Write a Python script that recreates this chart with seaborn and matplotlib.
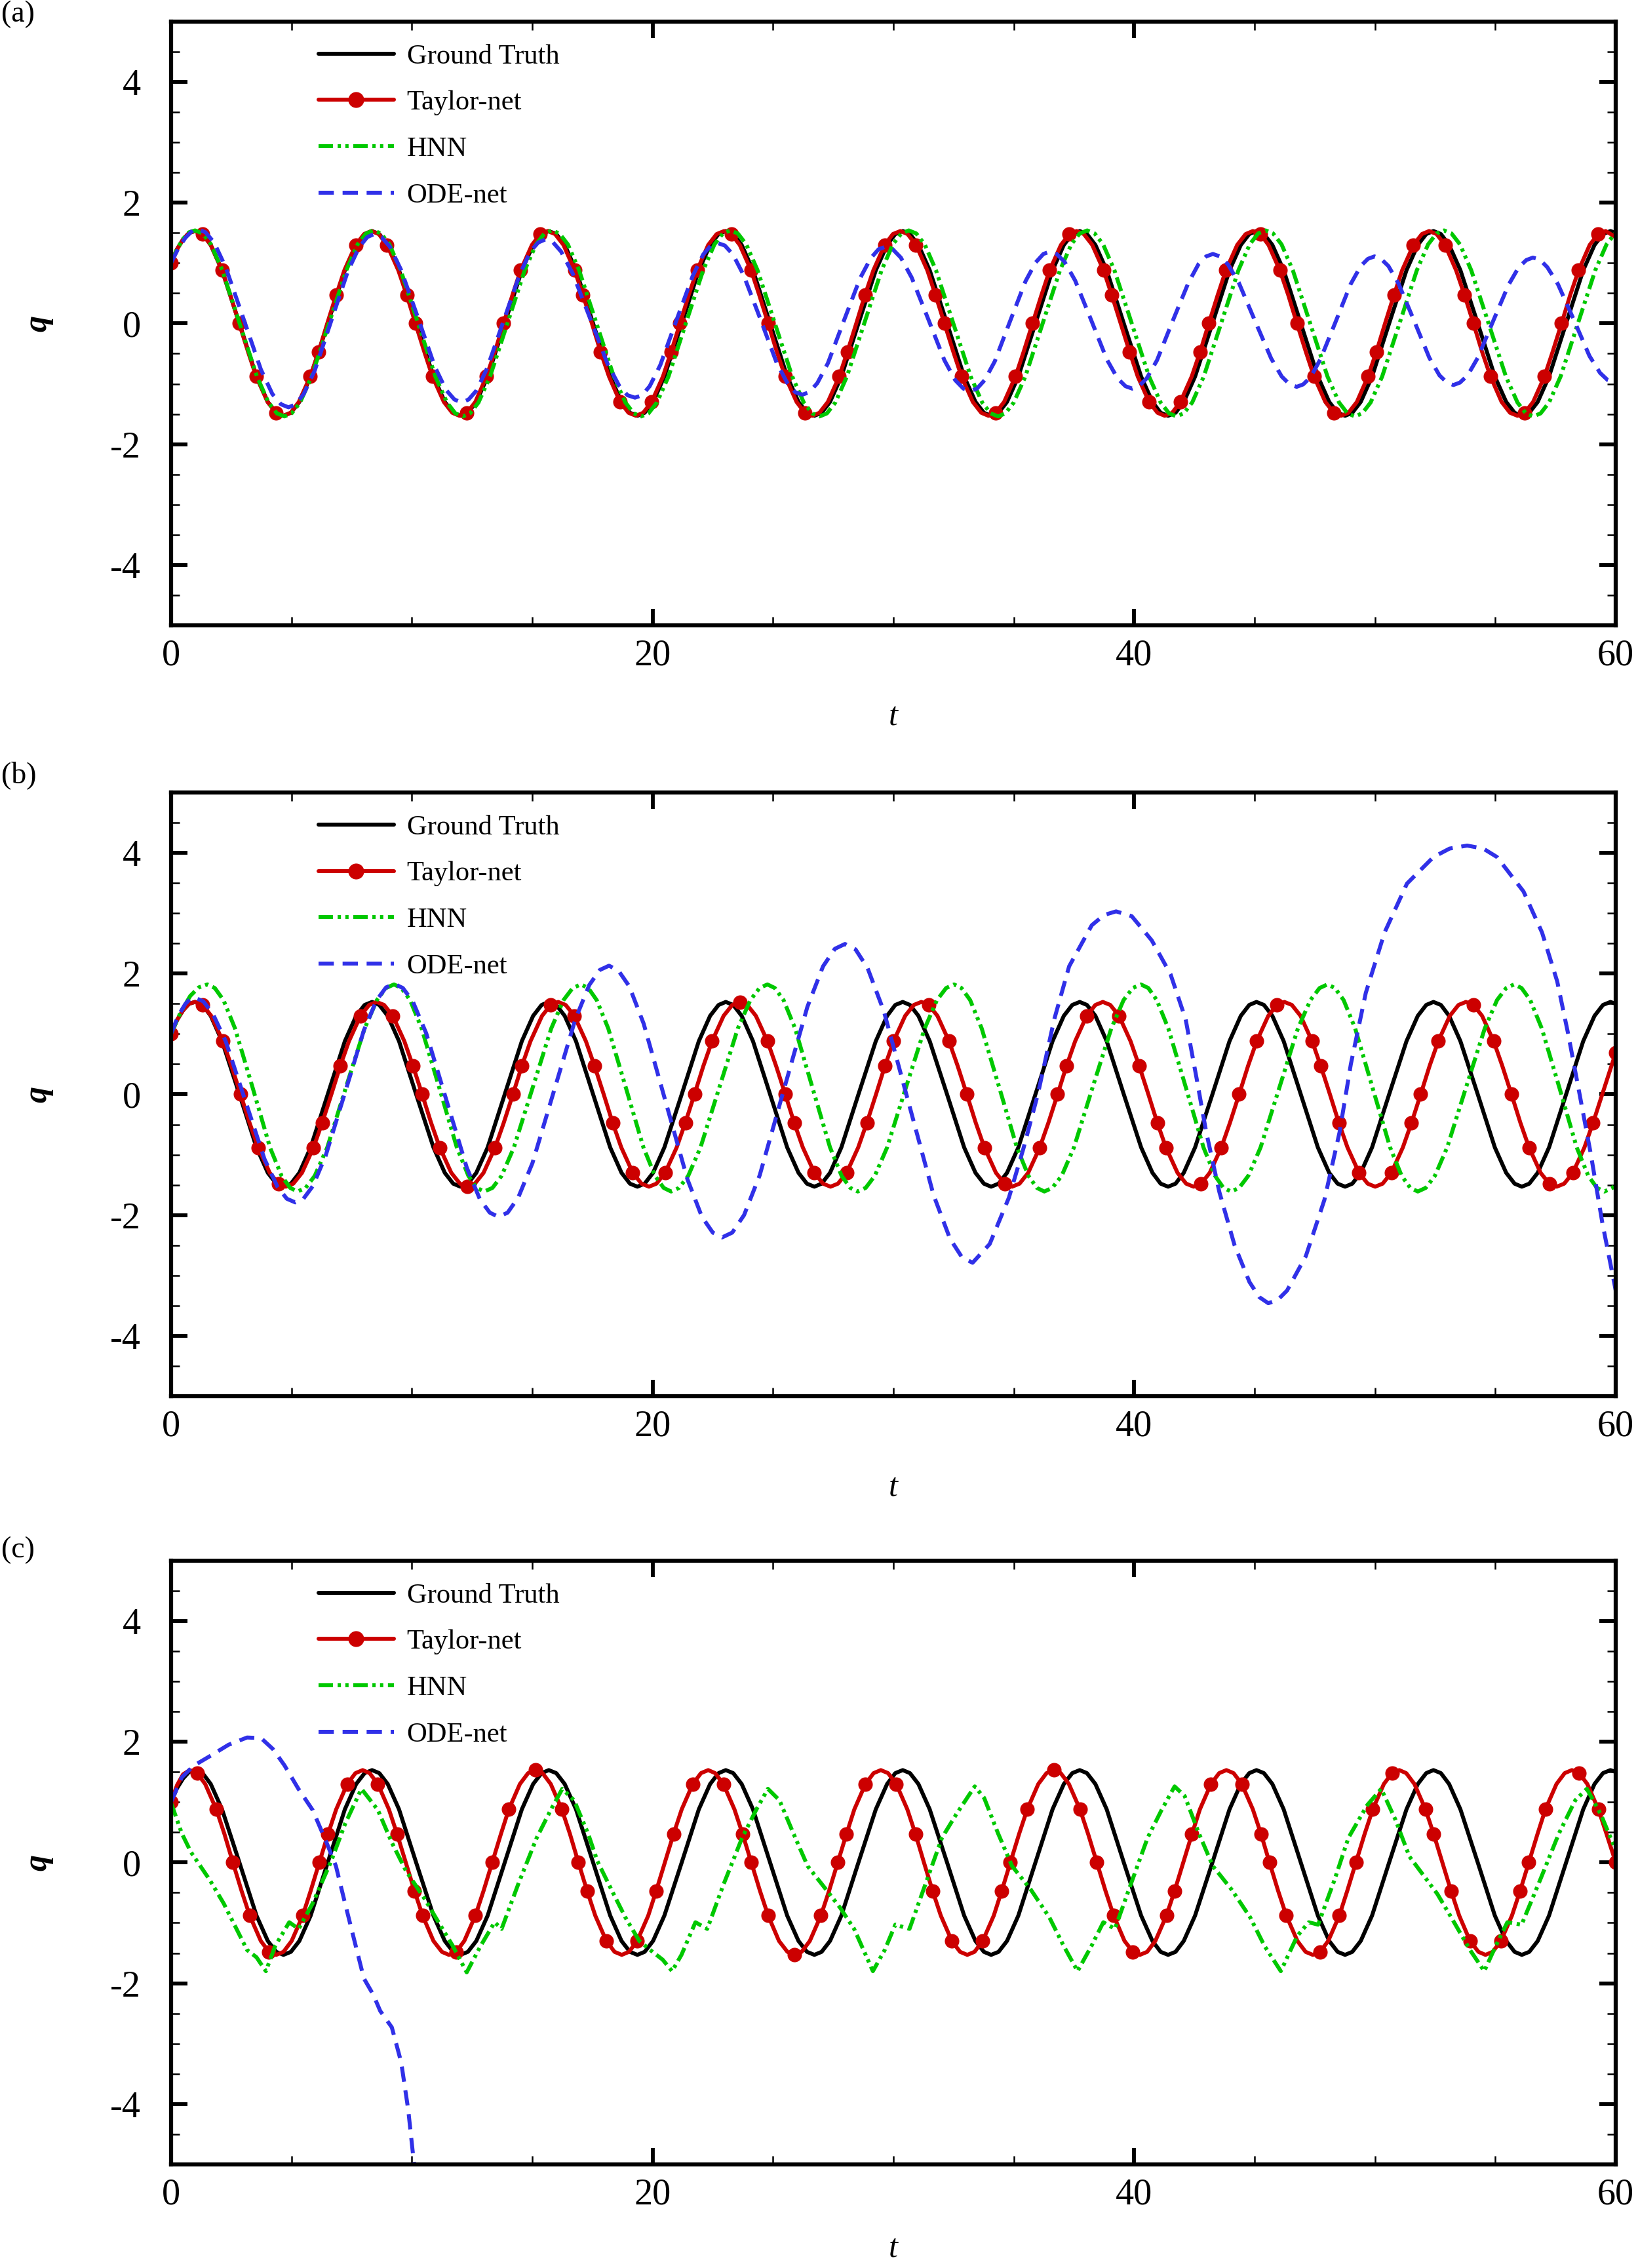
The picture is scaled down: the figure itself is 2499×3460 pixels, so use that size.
import matplotlib
matplotlib.use("Agg")
import matplotlib.pyplot as plt
from matplotlib.lines import Line2D
from matplotlib.ticker import MultipleLocator
import seaborn as sns

# ---------------- data ----------------
# ground truth, identical in all three panels
gt_t = [0.0, 0.25, 0.5, 0.75,
        1.00, 1.31, 1.65, 2.12, 2.84, 3.55, 4.02, 4.37,
        4.67, 4.98, 5.33, 5.80, 6.51, 7.22, 7.69, 8.04,
        8.35, 8.65, 9.00, 9.47, 10.18, 10.90, 11.37, 11.72,
        12.02, 12.33, 12.68, 13.15, 13.86, 14.57, 15.04, 15.39,
        15.69, 16.00, 16.35, 16.82, 17.53, 18.24, 18.71, 19.06,
        19.37, 19.67, 20.02, 20.49, 21.21, 21.92, 22.39, 22.74,
        23.04, 23.35, 23.70, 24.17, 24.88, 25.59, 26.06, 26.41,
        26.72, 27.02, 27.37, 27.84, 28.55, 29.27, 29.74, 30.08,
        30.39, 30.69, 31.04, 31.51, 32.23, 32.94, 33.41, 33.76,
        34.06, 34.37, 34.72, 35.19, 35.90, 36.61, 37.08, 37.43,
        37.74, 38.04, 38.39, 38.86, 39.57, 40.29, 40.76, 41.10,
        41.41, 41.72, 42.06, 42.53, 43.25, 43.96, 44.43, 44.78,
        45.08, 45.39, 45.74, 46.21, 46.92, 47.63, 48.10, 48.45,
        48.76, 49.06, 49.41, 49.88, 50.59, 51.31, 51.78, 52.13,
        52.43, 52.74, 53.08, 53.55, 54.27, 54.98, 55.45, 55.80,
        56.10, 56.41, 56.76, 57.23, 57.94, 58.65, 59.12, 59.47,
        59.78, 60.0]
gt_q = [1.00, 1.23, 1.39, 1.50,
        1.53, 1.48, 1.30, 0.88, 0.0, -0.88, -1.30, -1.48,
        -1.53, -1.48, -1.30, -0.88, 0.0, 0.88, 1.30, 1.48,
        1.53, 1.48, 1.30, 0.88, 0.0, -0.88, -1.30, -1.48,
        -1.53, -1.48, -1.30, -0.88, 0.0, 0.88, 1.30, 1.48,
        1.53, 1.48, 1.30, 0.88, 0.0, -0.88, -1.30, -1.48,
        -1.53, -1.48, -1.30, -0.88, 0.0, 0.88, 1.30, 1.48,
        1.53, 1.48, 1.30, 0.88, 0.0, -0.88, -1.30, -1.48,
        -1.53, -1.48, -1.30, -0.88, 0.0, 0.88, 1.30, 1.48,
        1.53, 1.48, 1.30, 0.88, 0.0, -0.88, -1.30, -1.48,
        -1.53, -1.48, -1.30, -0.88, 0.0, 0.88, 1.30, 1.48,
        1.53, 1.48, 1.30, 0.88, 0.0, -0.88, -1.30, -1.48,
        -1.53, -1.48, -1.30, -0.88, 0.0, 0.88, 1.30, 1.48,
        1.53, 1.48, 1.30, 0.88, 0.0, -0.88, -1.30, -1.48,
        -1.53, -1.48, -1.30, -0.88, 0.0, 0.88, 1.30, 1.48,
        1.53, 1.48, 1.30, 0.88, 0.0, -0.88, -1.30, -1.48,
        -1.53, -1.48, -1.30, -0.88, 0.0, 0.88, 1.30, 1.48,
        1.53, 1.50]

# (a) Taylor-net
ta_t = [0.0, 0.25, 0.5, 0.75,
        1.00, 1.30, 1.65, 2.12, 2.46, 2.83, 3.20, 3.54, 4.01, 4.36,
        4.66, 4.97, 5.31, 5.78, 6.13, 6.49, 6.86, 7.20, 7.67, 8.02,
        8.32, 8.63, 8.97, 9.44, 9.79, 10.15, 10.52, 10.86, 11.33, 11.68,
        11.98, 12.29, 12.64, 13.10, 13.45, 13.81, 14.18, 14.52, 14.99, 15.34,
        15.64, 15.95, 16.30, 16.76, 17.11, 17.48, 17.84, 18.19, 18.65, 19.00,
        19.31, 19.61, 19.96, 20.43, 20.77, 21.14, 21.50, 21.85, 22.31, 22.66,
        22.97, 23.27, 23.62, 24.09, 24.43, 24.80, 25.16, 25.51, 25.98, 26.32,
        26.63, 26.93, 27.28, 27.75, 28.09, 28.46, 28.82, 29.17, 29.64, 29.98,
        30.29, 30.59, 30.94, 31.41, 31.75, 32.12, 32.49, 32.83, 33.30, 33.65,
        33.95, 34.25, 34.60, 35.07, 35.41, 35.78, 36.15, 36.49, 36.96, 37.31,
        37.61, 37.91, 38.26, 38.73, 39.07, 39.44, 39.81, 40.15, 40.62, 40.97,
        41.27, 41.58, 41.92, 42.39, 42.74, 43.10, 43.47, 43.81, 44.28, 44.63,
        44.93, 45.24, 45.58, 46.05, 46.40, 46.76, 47.13, 47.47, 47.94, 48.29,
        48.59, 48.90, 49.25, 49.71, 50.06, 50.42, 50.79, 51.13, 51.60, 51.95,
        52.25, 52.56, 52.91, 53.37, 53.72, 54.09, 54.45, 54.80, 55.26, 55.61,
        55.92, 56.22, 56.57, 57.04, 57.38, 57.75, 58.11, 58.46, 58.92, 59.27,
        59.58, 60.0]
ta_q = [1.00, 1.23, 1.39, 1.50,
        1.53, 1.48, 1.30, 0.88, 0.47, 0.0, -0.47, -0.88, -1.30, -1.48,
        -1.53, -1.48, -1.30, -0.88, -0.47, 0.0, 0.47, 0.88, 1.30, 1.48,
        1.53, 1.48, 1.30, 0.88, 0.47, 0.0, -0.47, -0.88, -1.30, -1.48,
        -1.53, -1.48, -1.30, -0.88, -0.47, 0.0, 0.47, 0.88, 1.30, 1.48,
        1.53, 1.48, 1.30, 0.88, 0.47, 0.0, -0.47, -0.88, -1.30, -1.48,
        -1.53, -1.48, -1.30, -0.88, -0.47, 0.0, 0.47, 0.88, 1.30, 1.48,
        1.53, 1.48, 1.30, 0.88, 0.47, 0.0, -0.47, -0.88, -1.30, -1.48,
        -1.53, -1.48, -1.30, -0.88, -0.47, 0.0, 0.47, 0.88, 1.30, 1.48,
        1.53, 1.48, 1.30, 0.88, 0.47, 0.0, -0.47, -0.88, -1.30, -1.48,
        -1.53, -1.48, -1.30, -0.88, -0.47, 0.0, 0.47, 0.88, 1.30, 1.48,
        1.53, 1.48, 1.30, 0.88, 0.47, 0.0, -0.47, -0.88, -1.30, -1.48,
        -1.53, -1.48, -1.30, -0.88, -0.47, 0.0, 0.47, 0.88, 1.30, 1.48,
        1.53, 1.48, 1.30, 0.88, 0.47, 0.0, -0.47, -0.88, -1.30, -1.48,
        -1.53, -1.48, -1.30, -0.88, -0.47, 0.0, 0.47, 0.88, 1.30, 1.48,
        1.53, 1.48, 1.30, 0.88, 0.47, 0.0, -0.47, -0.88, -1.30, -1.48,
        -1.53, -1.48, -1.30, -0.88, -0.47, 0.0, 0.47, 0.88, 1.30, 1.48,
        1.53, 1.43]

# (a) HNN
ha_t = [0.0, 0.25, 0.5, 0.75,
        1.00, 1.31, 1.66, 2.13, 2.85, 3.57, 4.05, 4.40,
        4.71, 5.01, 5.36, 5.84, 6.56, 7.28, 7.75, 8.10,
        8.41, 8.72, 9.07, 9.54, 10.26, 10.98, 11.46, 11.81,
        12.12, 12.42, 12.77, 13.25, 13.97, 14.69, 15.16, 15.51,
        15.82, 16.13, 16.48, 16.95, 17.67, 18.39, 18.87, 19.22,
        19.53, 19.83, 20.18, 20.66, 21.38, 22.10, 22.57, 22.92,
        23.23, 23.54, 23.89, 24.36, 25.08, 25.80, 26.28, 26.63,
        26.94, 27.24, 27.59, 28.07, 28.79, 29.51, 29.98, 30.33,
        30.64, 30.95, 31.30, 31.77, 32.49, 33.21, 33.69, 34.04,
        34.35, 34.65, 35.00, 35.48, 36.20, 36.92, 37.39, 37.74,
        38.05, 38.36, 38.71, 39.18, 39.90, 40.62, 41.10, 41.45,
        41.76, 42.06, 42.41, 42.89, 43.61, 44.33, 44.80, 45.15,
        45.46, 45.77, 46.12, 46.59, 47.31, 48.03, 48.51, 48.86,
        49.17, 49.47, 49.82, 50.30, 51.02, 51.74, 52.21, 52.56,
        52.87, 53.18, 53.53, 54.00, 54.72, 55.44, 55.92, 56.27,
        56.58, 56.88, 57.23, 57.71, 58.43, 59.15, 59.62, 59.97,
        60.0]
ha_q = [1.00, 1.23, 1.40, 1.51,
        1.54, 1.49, 1.31, 0.88, 0.0, -0.88, -1.31, -1.49,
        -1.54, -1.49, -1.31, -0.88, 0.0, 0.88, 1.31, 1.49,
        1.54, 1.49, 1.31, 0.88, 0.0, -0.88, -1.31, -1.49,
        -1.54, -1.49, -1.31, -0.88, 0.0, 0.88, 1.31, 1.49,
        1.54, 1.49, 1.31, 0.88, 0.0, -0.88, -1.31, -1.49,
        -1.54, -1.49, -1.31, -0.88, 0.0, 0.88, 1.31, 1.49,
        1.54, 1.49, 1.31, 0.88, 0.0, -0.88, -1.31, -1.49,
        -1.54, -1.49, -1.31, -0.88, 0.0, 0.88, 1.31, 1.49,
        1.54, 1.49, 1.31, 0.88, 0.0, -0.88, -1.31, -1.49,
        -1.54, -1.49, -1.31, -0.88, 0.0, 0.88, 1.31, 1.49,
        1.54, 1.49, 1.31, 0.88, 0.0, -0.88, -1.31, -1.49,
        -1.54, -1.49, -1.31, -0.88, 0.0, 0.88, 1.31, 1.49,
        1.54, 1.49, 1.31, 0.88, 0.0, -0.88, -1.31, -1.49,
        -1.54, -1.49, -1.31, -0.88, 0.0, 0.88, 1.31, 1.49,
        1.54, 1.49, 1.31, 0.88, 0.0, -0.88, -1.31, -1.49,
        -1.54, -1.49, -1.31, -0.88, 0.0, 0.88, 1.31, 1.49,
        1.50]

# (a) ODE-net
oa_t = [0.0, 0.3, 0.6, 0.9,
        1.12, 1.43, 1.79, 2.27, 3.00, 3.73, 4.21, 4.57,
        4.88, 5.18, 5.51, 5.97, 6.66, 7.35, 7.81, 8.15,
        8.44, 8.74, 9.09, 9.55, 10.26, 10.96, 11.42, 11.77,
        12.07, 12.36, 12.69, 13.13, 13.81, 14.48, 14.92, 15.25,
        15.54, 15.85, 16.20, 16.68, 17.41, 18.13, 18.61, 18.96,
        19.27, 19.56, 19.88, 20.32, 20.99, 21.66, 22.10, 22.42,
        22.71, 23.00, 23.34, 23.78, 24.47, 25.15, 25.60, 25.93,
        26.22, 26.51, 26.84, 27.28, 27.95, 28.62, 29.06, 29.39,
        29.68, 29.97, 30.31, 30.76, 31.44, 32.12, 32.57, 32.91,
        33.20, 33.47, 33.79, 34.21, 34.85, 35.49, 35.91, 36.23,
        36.50, 36.78, 37.11, 37.55, 38.21, 38.87, 39.31, 39.64,
        39.92, 40.20, 40.52, 40.95, 41.60, 42.25, 42.67, 42.99,
        43.27, 43.56, 43.89, 44.34, 45.01, 45.69, 46.13, 46.46,
        46.75, 47.02, 47.33, 47.74, 48.37, 48.99, 49.41, 49.71,
        49.98, 50.25, 50.56, 50.98, 51.62, 52.26, 52.68, 52.99,
        53.26, 53.53, 53.85, 54.27, 54.91, 55.55, 55.97, 56.29,
        56.56, 56.84, 57.16, 57.60, 58.26, 58.91, 59.35, 59.67,
        59.95, 60.0]
oa_q = [1.00, 1.24, 1.42, 1.54,
        1.56, 1.51, 1.34, 0.93, 0.09, -0.76, -1.17, -1.34,
        -1.39, -1.34, -1.17, -0.78, 0.05, 0.87, 1.26, 1.43,
        1.48, 1.43, 1.27, 0.89, 0.09, -0.72, -1.10, -1.26,
        -1.31, -1.26, -1.11, -0.74, 0.04, 0.81, 1.19, 1.34,
        1.39, 1.35, 1.19, 0.83, 0.08, -0.67, -1.03, -1.19,
        -1.23, -1.19, -1.04, -0.69, 0.05, 0.78, 1.14, 1.29,
        1.33, 1.29, 1.14, 0.80, 0.08, -0.65, -0.99, -1.14,
        -1.18, -1.14, -0.99, -0.66, 0.05, 0.75, 1.08, 1.23,
        1.27, 1.23, 1.09, 0.76, 0.08, -0.61, -0.94, -1.08,
        -1.12, -1.08, -0.94, -0.63, 0.04, 0.70, 1.01, 1.15,
        1.19, 1.15, 1.02, 0.71, 0.06, -0.60, -0.91, -1.04,
        -1.08, -1.04, -0.91, -0.61, 0.04, 0.67, 0.98, 1.11,
        1.15, 1.11, 0.98, 0.68, 0.05, -0.58, -0.88, -1.01,
        -1.05, -1.01, -0.89, -0.59, 0.03, 0.65, 0.95, 1.07,
        1.11, 1.07, 0.95, 0.66, 0.05, -0.57, -0.86, -0.98,
        -1.02, -0.98, -0.86, -0.57, 0.04, 0.64, 0.93, 1.05,
        1.09, 1.06, 0.93, 0.65, 0.06, -0.54, -0.82, -0.94,
        -0.98, -0.98]

# (b) Taylor-net
tb_t = [0.0, 0.25, 0.5, 0.75,
        1.00, 1.31, 1.67, 2.15, 2.51, 2.89, 3.26, 3.62, 4.10, 4.46,
        4.77, 5.08, 5.44, 5.92, 6.28, 6.66, 7.03, 7.39, 7.87, 8.23,
        8.54, 8.85, 9.21, 9.69, 10.05, 10.43, 10.80, 11.16, 11.64, 12.00,
        12.31, 12.62, 12.98, 13.46, 13.82, 14.20, 14.57, 14.93, 15.41, 15.77,
        16.08, 16.39, 16.75, 17.23, 17.59, 17.97, 18.34, 18.70, 19.18, 19.54,
        19.85, 20.16, 20.52, 21.00, 21.36, 21.74, 22.11, 22.47, 22.95, 23.31,
        23.62, 23.93, 24.29, 24.77, 25.13, 25.51, 25.88, 26.24, 26.72, 27.08,
        27.39, 27.70, 28.06, 28.54, 28.90, 29.28, 29.65, 30.01, 30.49, 30.85,
        31.16, 31.47, 31.83, 32.31, 32.67, 33.05, 33.42, 33.78, 34.26, 34.62,
        34.93, 35.24, 35.60, 36.08, 36.44, 36.82, 37.19, 37.55, 38.03, 38.39,
        38.70, 39.01, 39.37, 39.85, 40.21, 40.59, 40.96, 41.32, 41.80, 42.16,
        42.47, 42.78, 43.14, 43.62, 43.98, 44.36, 44.73, 45.09, 45.57, 45.93,
        46.24, 46.55, 46.91, 47.39, 47.75, 48.13, 48.50, 48.86, 49.34, 49.70,
        50.01, 50.32, 50.68, 51.16, 51.52, 51.90, 52.27, 52.63, 53.11, 53.47,
        53.78, 54.09, 54.45, 54.93, 55.29, 55.67, 56.04, 56.40, 56.88, 57.24,
        57.55, 57.86, 58.22, 58.70, 59.06, 59.44, 60.0]
tb_q = [1.00, 1.23, 1.39, 1.50,
        1.53, 1.48, 1.30, 0.88, 0.47, 0.0, -0.47, -0.88, -1.30, -1.48,
        -1.53, -1.48, -1.30, -0.88, -0.47, 0.0, 0.47, 0.88, 1.30, 1.48,
        1.53, 1.48, 1.30, 0.88, 0.47, 0.0, -0.47, -0.88, -1.30, -1.48,
        -1.53, -1.48, -1.30, -0.88, -0.47, 0.0, 0.47, 0.88, 1.30, 1.48,
        1.53, 1.48, 1.30, 0.88, 0.47, 0.0, -0.47, -0.88, -1.30, -1.48,
        -1.53, -1.48, -1.30, -0.88, -0.47, 0.0, 0.47, 0.88, 1.30, 1.48,
        1.53, 1.48, 1.30, 0.88, 0.47, 0.0, -0.47, -0.88, -1.30, -1.48,
        -1.53, -1.48, -1.30, -0.88, -0.47, 0.0, 0.47, 0.88, 1.30, 1.48,
        1.53, 1.48, 1.30, 0.88, 0.47, 0.0, -0.47, -0.88, -1.30, -1.48,
        -1.53, -1.48, -1.30, -0.88, -0.47, 0.0, 0.47, 0.88, 1.30, 1.48,
        1.53, 1.48, 1.30, 0.88, 0.47, 0.0, -0.47, -0.88, -1.30, -1.48,
        -1.53, -1.48, -1.30, -0.88, -0.47, 0.0, 0.47, 0.88, 1.30, 1.48,
        1.53, 1.48, 1.30, 0.88, 0.47, 0.0, -0.47, -0.88, -1.30, -1.48,
        -1.53, -1.48, -1.30, -0.88, -0.47, 0.0, 0.47, 0.88, 1.30, 1.48,
        1.53, 1.48, 1.30, 0.88, 0.47, 0.0, -0.47, -0.88, -1.30, -1.48,
        -1.53, -1.48, -1.30, -0.88, -0.47, 0.0, 0.69]

# (b) HNN
hb_t = [0.0, 0.4, 0.8, 1.15,
        1.51, 1.82, 2.18, 2.66, 3.39, 4.11, 4.59, 4.95,
        5.26, 5.59, 5.97, 6.49, 7.26, 8.04, 8.55, 8.93,
        9.26, 9.57, 9.93, 10.41, 11.14, 11.87, 12.35, 12.70,
        13.01, 13.35, 13.73, 14.24, 15.02, 15.79, 16.30, 16.68,
        17.02, 17.33, 17.68, 18.16, 18.89, 19.62, 20.10, 20.46,
        20.77, 21.10, 21.48, 21.99, 22.77, 23.54, 24.06, 24.44,
        24.77, 25.08, 25.44, 25.92, 26.64, 27.37, 27.85, 28.21,
        28.52, 28.85, 29.23, 29.74, 30.52, 31.30, 31.81, 32.19,
        32.52, 32.83, 33.19, 33.67, 34.40, 35.13, 35.61, 35.96,
        36.27, 36.60, 36.99, 37.50, 38.27, 39.05, 39.56, 39.94,
        40.28, 40.59, 40.94, 41.42, 42.15, 42.88, 43.36, 43.71,
        44.03, 44.36, 44.74, 45.25, 46.03, 46.80, 47.32, 47.70,
        48.03, 48.34, 48.70, 49.18, 49.90, 50.63, 51.11, 51.47,
        51.78, 52.11, 52.49, 53.00, 53.78, 54.56, 55.07, 55.45,
        55.78, 56.09, 56.45, 56.93, 57.66, 58.38, 58.86, 59.22,
        59.53, 59.86, 60.0]
hb_q = [1.00, 1.36, 1.63, 1.77,
        1.82, 1.76, 1.56, 1.09, 0.11, -0.88, -1.35, -1.55,
        -1.61, -1.55, -1.35, -0.88, 0.11, 1.09, 1.56, 1.76,
        1.82, 1.76, 1.56, 1.09, 0.11, -0.88, -1.35, -1.55,
        -1.61, -1.55, -1.35, -0.88, 0.11, 1.09, 1.56, 1.76,
        1.82, 1.76, 1.56, 1.09, 0.11, -0.88, -1.35, -1.55,
        -1.61, -1.55, -1.35, -0.88, 0.11, 1.09, 1.56, 1.76,
        1.82, 1.76, 1.56, 1.09, 0.11, -0.88, -1.35, -1.55,
        -1.61, -1.55, -1.35, -0.88, 0.11, 1.09, 1.56, 1.76,
        1.82, 1.76, 1.56, 1.09, 0.11, -0.88, -1.35, -1.55,
        -1.61, -1.55, -1.35, -0.88, 0.11, 1.09, 1.56, 1.76,
        1.82, 1.76, 1.56, 1.09, 0.11, -0.88, -1.35, -1.55,
        -1.61, -1.55, -1.35, -0.88, 0.11, 1.09, 1.56, 1.76,
        1.82, 1.76, 1.56, 1.09, 0.11, -0.88, -1.35, -1.55,
        -1.61, -1.55, -1.35, -0.88, 0.11, 1.09, 1.56, 1.76,
        1.82, 1.76, 1.56, 1.09, 0.11, -0.88, -1.35, -1.55,
        -1.61, -1.55, -1.50]

# (b) ODE-net
ob_t = [0.0, 0.3, 0.6, 0.8,
        0.99, 1.34, 1.73, 2.27, 3.08, 3.88, 4.42, 4.81,
        5.16, 5.50, 5.89, 6.42, 7.22, 8.01, 8.54, 8.93,
        9.27, 9.63, 10.04, 10.60, 11.44, 12.28, 12.83, 13.24,
        13.60, 13.98, 14.42, 15.01, 15.90, 16.79, 17.37, 17.81,
        18.19, 18.58, 19.03, 19.63, 20.54, 21.45, 22.05, 22.50,
        22.89, 23.31, 23.80, 24.45, 25.44, 26.43, 27.08, 27.57,
        27.99, 28.43, 28.93, 29.61, 30.64, 31.67, 32.35, 32.85,
        33.29, 34.00, 34.80, 35.40, 36.00, 36.68, 37.30, 38.24, 38.75, 39.25, 39.90,
        40.73, 41.51, 42.14, 42.60, 42.99, 43.54, 44.17, 44.79, 45.20, 45.57, 45.95,
        46.35, 47.13, 47.90, 48.53, 49.00, 49.62, 50.40, 51.33, 52.43, 53.10, 53.83,
        54.50, 55.07, 56.17, 56.94, 57.57, 58.03, 58.50, 58.97, 59.44, 60.0]
ob_q = [1.00, 1.30, 1.50, 1.58,
        1.60, 1.54, 1.34, 0.88, -0.10, -1.07, -1.53, -1.73,
        -1.79, -1.73, -1.52, -1.02, 0.02, 1.06, 1.56, 1.77,
        1.83, 1.76, 1.54, 1.01, -0.10, -1.21, -1.74, -1.96,
        -2.03, -1.96, -1.71, -1.14, 0.05, 1.24, 1.81, 2.06,
        2.13, 2.05, 1.79, 1.17, -0.12, -1.41, -2.03, -2.29,
        -2.37, -2.29, -2.00, -1.34, 0.06, 1.45, 2.12, 2.41,
        2.49, 2.40, 2.09, 1.37, -0.15, -1.67, -2.39, -2.70,
        -2.79, -2.48, -1.71, -0.90, 0.00, 1.24, 2.12, 2.80, 2.97, 3.03, 2.95,
        2.55, 1.99, 1.24, 0.25, -0.62, -1.62, -2.50, -3.11, -3.36, -3.46, -3.41,
        -3.25, -2.68, -1.75, -0.63, 0.50, 1.68, 2.68, 3.49, 3.93, 4.07, 4.12,
        4.07, 3.93, 3.36, 2.68, 1.87, 0.99, 0.00, -1.00, -2.12, -3.25]

# (c) Taylor-net
tc_t = [0.0, 0.25, 0.5,
        0.78, 1.08, 1.42, 1.88, 2.22, 2.57, 2.93, 3.27, 3.73, 4.07,
        4.37, 4.67, 5.01, 5.47, 5.80, 6.16, 6.52, 6.86, 7.32, 7.66,
        7.96, 8.25, 8.59, 9.05, 9.39, 9.75, 10.11, 10.45, 10.90, 11.25,
        11.54, 11.84, 12.18, 12.64, 12.98, 13.34, 13.70, 14.03, 14.49, 14.83,
        15.13, 15.43, 15.77, 16.23, 16.57, 16.92, 17.28, 17.62, 18.08, 18.42,
        18.72, 19.02, 19.36, 19.82, 20.15, 20.51, 20.87, 21.21, 21.67, 22.01,
        22.31, 22.60, 22.94, 23.40, 23.74, 24.10, 24.46, 24.80, 25.25, 25.60,
        25.89, 26.19, 26.53, 26.99, 27.33, 27.69, 28.05, 28.38, 28.84, 29.18,
        29.48, 29.78, 30.12, 30.58, 30.92, 31.27, 31.63, 31.97, 32.43, 32.77,
        33.07, 33.37, 33.71, 34.17, 34.50, 34.86, 35.22, 35.56, 36.02, 36.36,
        36.66, 36.95, 37.29, 37.75, 38.09, 38.45, 38.81, 39.15, 39.60, 39.95,
        40.24, 40.54, 40.88, 41.34, 41.68, 42.04, 42.40, 42.73, 43.19, 43.53,
        43.83, 44.13, 44.47, 44.93, 45.27, 45.62, 45.98, 46.32, 46.78, 47.12,
        47.42, 47.72, 48.06, 48.52, 48.85, 49.21, 49.57, 49.91, 50.37, 50.71,
        51.01, 51.30, 51.64, 52.10, 52.44, 52.80, 53.16, 53.50, 53.95, 54.30,
        54.59, 54.89, 55.23, 55.69, 56.03, 56.39, 56.75, 57.08, 57.54, 57.88,
        58.18, 58.48, 58.82, 59.28, 59.62, 60.0]
tc_q = [1.00, 1.28, 1.46,
        1.53, 1.48, 1.30, 0.88, 0.47, 0.0, -0.47, -0.88, -1.30, -1.48,
        -1.53, -1.48, -1.30, -0.88, -0.47, 0.0, 0.47, 0.88, 1.30, 1.48,
        1.53, 1.48, 1.30, 0.88, 0.47, 0.0, -0.47, -0.88, -1.30, -1.48,
        -1.53, -1.48, -1.30, -0.88, -0.47, 0.0, 0.47, 0.88, 1.30, 1.48,
        1.53, 1.48, 1.30, 0.88, 0.47, 0.0, -0.47, -0.88, -1.30, -1.48,
        -1.53, -1.48, -1.30, -0.88, -0.47, 0.0, 0.47, 0.88, 1.30, 1.48,
        1.53, 1.48, 1.30, 0.88, 0.47, 0.0, -0.47, -0.88, -1.30, -1.48,
        -1.53, -1.48, -1.30, -0.88, -0.47, 0.0, 0.47, 0.88, 1.30, 1.48,
        1.53, 1.48, 1.30, 0.88, 0.47, 0.0, -0.47, -0.88, -1.30, -1.48,
        -1.53, -1.48, -1.30, -0.88, -0.47, 0.0, 0.47, 0.88, 1.30, 1.48,
        1.53, 1.48, 1.30, 0.88, 0.47, 0.0, -0.47, -0.88, -1.30, -1.48,
        -1.53, -1.48, -1.30, -0.88, -0.47, 0.0, 0.47, 0.88, 1.30, 1.48,
        1.53, 1.48, 1.30, 0.88, 0.47, 0.0, -0.47, -0.88, -1.30, -1.48,
        -1.53, -1.48, -1.30, -0.88, -0.47, 0.0, 0.47, 0.88, 1.30, 1.48,
        1.53, 1.48, 1.30, 0.88, 0.47, 0.0, -0.47, -0.88, -1.30, -1.48,
        -1.53, -1.48, -1.30, -0.88, -0.47, 0.0, 0.47, 0.88, 1.30, 1.48,
        1.53, 1.48, 1.30, 0.88, 0.47, 0.0]

# (c) HNN
hc_t = [0.0, 0.45, 0.83, 1.61, 2.19, 2.77, 3.16, 3.55, 3.94, 4.33, 4.91, 5.30, 5.88, 6.65, 7.23, 7.91,
        8.59, 9.17, 9.76, 10.53, 11.11, 11.70, 12.28, 12.86, 13.44, 13.73, 14.41, 15.19, 15.77, 16.25,
        16.74, 17.32, 17.71, 18.29, 18.87, 19.45, 20.03, 20.42, 20.81, 21.20, 21.78, 22.27, 22.94, 23.72, 24.30, 24.79,
        25.27, 25.85, 26.44, 27.21, 27.79, 28.37, 28.76, 29.15, 29.64, 30.08, 30.67, 31.25, 32.02, 32.60, 33.38,
        33.77, 34.35, 34.93, 35.71, 36.48, 37.07, 37.65, 38.23, 38.72, 39.20, 39.78, 40.56, 41.14, 41.68,
        42.10, 42.69, 43.27, 44.05, 44.82, 45.41, 46.09, 46.77, 47.25, 47.64, 48.32, 48.90, 49.68, 50.26,
        50.85, 51.43, 52.01, 52.59, 53.17, 53.95, 54.54, 55.02, 55.50, 56.09, 56.86, 57.64, 58.32, 58.80,
        59.39, 59.87, 60.0]
hc_q = [0.99, 0.48, 0.17, -0.29, -0.68, -1.14, -1.45, -1.57, -1.80, -1.38, -0.99, -1.10, -0.68, 0.02, 0.64, 1.22,
        0.87, 0.33, -0.14, -0.60, -0.99, -1.38, -1.82, -1.38, -0.99, -1.10, -0.37, 0.41, 0.87, 1.22,
        1.03, 0.48, 0.02, -0.45, -0.91, -1.30, -1.49, -1.61, -1.80, -1.53, -0.99, -1.10, -0.37, 0.41, 0.87, 1.22,
        1.03, 0.48, -0.06, -0.45, -0.75, -1.10, -1.45, -1.80, -1.45, -1.03, -1.10, -0.45, 0.41, 0.79, 1.26,
        1.07, 0.48, -0.06, -0.45, -0.91, -1.38, -1.80, -1.38, -0.99, -1.10, -0.45, 0.41, 0.87, 1.26,
        1.10, 0.48, -0.06, -0.45, -0.91, -1.38, -1.80, -1.22, -0.99, -1.03, -0.29, 0.41, 0.95, 1.22,
        0.71, 0.10, -0.21, -0.52, -0.91, -1.45, -1.80, -1.38, -0.99, -1.03, -0.29, 0.48, 1.03, 1.22,
        0.79, 0.33, 0.22]

# (c) ODE-net (leaves the window below q = -5)
oc_t = [0.0, 0.45, 0.93, 1.61, 2.39, 3.16, 3.74, 4.23, 4.71, 5.29, 5.88, 6.46,
        6.85, 7.23, 7.62, 8.01, 8.40, 8.69, 9.17, 9.56, 9.85, 10.09, 10.30]
oc_q = [1.00, 1.41, 1.60, 1.76, 1.95, 2.07, 2.06, 1.88, 1.61, 1.22, 0.87, 0.33,
        -0.06, -0.68, -1.30, -1.92, -2.19, -2.46, -2.73, -3.31, -4.09, -4.98, -5.80]

labels = ["Ground Truth", "Taylor-net", "HNN", "ODE-net"]
panel_names = ["(a)", "(b)", "(c)"]

# ---------------- style ----------------
sns.set_style("ticks", {"axes.edgecolor": "black", "xtick.color": "black",
                        "ytick.color": "black", "text.color": "black",
                        "axes.labelcolor": "black"})
plt.rcParams["font.family"] = ["Liberation Serif", "DejaVu Serif"]
plt.rcParams["axes.unicode_minus"] = False
plt.rcParams["lines.scale_dashes"] = False

RED = "#cc0000"
GREEN = "#00c800"
BLUE = "#3030e8"
LW = 1.45
MS = 4.8
HNN_DASH = [5.3, 1.7, 1.2, 1.6, 1.2, 1.7]
ODE_DASH = [5.6, 3.2]

fig = plt.figure(figsize=(2499 / 300, 3460 / 300), dpi=300)

# bottom of axes, y of the panel tag, y of the t label, then the three model series
panels = [
    (0.7243, 0.9936, -0.152, ta_t, ta_q, ha_t, ha_q, oa_t, oa_q),
    (0.3844, 0.6581, -0.152, tb_t, tb_q, hb_t, hb_q, ob_t, ob_q),
    (0.0457, 0.3165, -0.140, tc_t, tc_q, hc_t, hc_q, oc_t, oc_q),
]

for name, (bottom, tag_y, xlab_y, t1, q1, t2, q2, t3, q3) in zip(panel_names, panels):
    ax = fig.add_axes([0.1044, bottom, 0.8820, 0.2662])

    sns.lineplot(x=gt_t, y=gt_q, ax=ax, color="black", lw=LW,
                 estimator=None, sort=False, legend=False)
    sns.lineplot(x=t1, y=q1, ax=ax, color=RED, lw=LW, marker="o", ms=MS,
                 mec=RED, mew=0.5, markevery=0.031,
                 estimator=None, sort=False, legend=False)
    sns.lineplot(x=t2, y=q2, ax=ax, color=GREEN, lw=LW,
                 estimator=None, sort=False, legend=False)
    ax.lines[-1].set_dashes(HNN_DASH)
    sns.lineplot(x=t3, y=q3, ax=ax, color=BLUE, lw=LW,
                 estimator=None, sort=False, legend=False)
    ax.lines[-1].set_dashes(ODE_DASH)

    ax.set_xlim(0, 60)
    ax.set_ylim(-5, 5)
    ax.xaxis.set_major_locator(MultipleLocator(20))
    ax.xaxis.set_minor_locator(MultipleLocator(5))
    ax.yaxis.set_major_locator(MultipleLocator(2))
    ax.yaxis.set_minor_locator(MultipleLocator(0.5))
    ax.tick_params(which="both", direction="in", top=True, right=True,
                   labelsize=13.5)
    ax.tick_params(which="major", length=6, width=1.4)
    ax.tick_params(which="minor", length=3.2, width=0.6)
    ax.tick_params(axis="x", pad=5)
    ax.tick_params(axis="y", pad=11)
    for s in ax.spines.values():
        s.set_linewidth(1.5)

    ax.set_xlabel("t", fontsize=12, style="italic")
    ax.xaxis.set_label_coords(0.5, xlab_y)
    ax.xaxis.label.set_va("center")
    ax.set_ylabel("q", fontsize=12, style="italic", weight="bold")
    ax.yaxis.set_label_coords(-0.0917, 0.5)
    ax.yaxis.label.set_va("center")

    handles = [
        Line2D([], [], color="black", lw=LW),
        Line2D([], [], color=RED, lw=LW, marker="o", ms=MS, mec=RED),
        Line2D([], [], color=GREEN, lw=LW, dashes=HNN_DASH),
        Line2D([], [], color=BLUE, lw=LW, dashes=ODE_DASH),
    ]
    ax.legend(handles, labels, loc="upper left", bbox_to_anchor=(0.1021, 0.963),
              frameon=False, fontsize=10.2, handlelength=2.7, handletextpad=0.47,
              labelspacing=0.75, borderpad=0, borderaxespad=0)

    fig.text(0.001, tag_y, name, fontsize=11, ha="left", va="center")

fig.savefig("out.png", dpi=300)
